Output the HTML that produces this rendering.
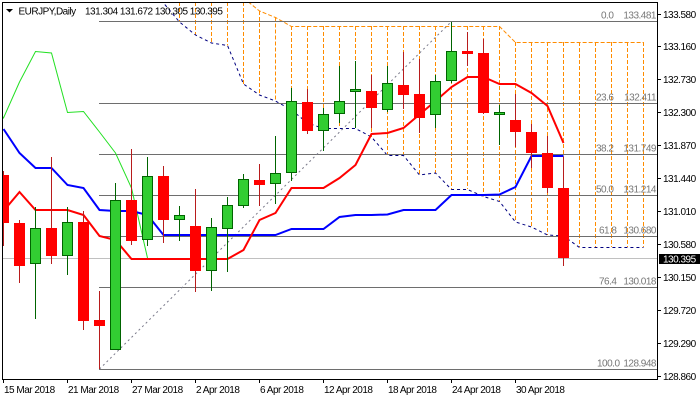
<!DOCTYPE html>
<html><head><meta charset="utf-8"><style>
html,body{margin:0;padding:0;background:#fff;}
svg{display:block;}
text{font-family:"Liberation Sans",sans-serif;font-size:10px;letter-spacing:-0.5px;}
</style></head><body>
<svg width="700" height="400" viewBox="0 0 700 400" xmlns="http://www.w3.org/2000/svg">
<defs><clipPath id="c"><rect x="3" y="3" width="654" height="376"/></clipPath></defs>
<rect width="700" height="400" fill="#fff"/>
<g clip-path="url(#c)">
<!-- hatches -->
<g stroke="#ff8c00" stroke-width="1" stroke-dasharray="4,2" shape-rendering="crispEdges">
<line x1="179.5" y1="2" x2="179.5" y2="22"/>
<line x1="195.5" y1="2" x2="195.5" y2="35"/>
<line x1="211.5" y1="2" x2="211.5" y2="43"/>
<line x1="227.5" y1="2" x2="227.5" y2="45.5"/>
<line x1="243.5" y1="2" x2="243.5" y2="84"/>
<line x1="259.5" y1="11" x2="259.5" y2="95"/>
<line x1="275.5" y1="17.5" x2="275.5" y2="101"/>
<line x1="291.5" y1="26" x2="291.5" y2="110"/>
<line x1="307.5" y1="26" x2="307.5" y2="123"/>
<line x1="323.5" y1="26" x2="323.5" y2="128"/>
<line x1="339.5" y1="26" x2="339.5" y2="128"/>
<line x1="355.5" y1="26" x2="355.5" y2="128"/>
<line x1="371.5" y1="26" x2="371.5" y2="137"/>
<line x1="387.5" y1="26" x2="387.5" y2="155"/>
<line x1="403.5" y1="26" x2="403.5" y2="155"/>
<line x1="419.5" y1="26" x2="419.5" y2="175"/>
<line x1="435.5" y1="26" x2="435.5" y2="173"/>
<line x1="451.5" y1="26" x2="451.5" y2="189"/>
<line x1="467.5" y1="26" x2="467.5" y2="189"/>
<line x1="483.5" y1="26" x2="483.5" y2="196.5"/>
<line x1="499.5" y1="26" x2="499.5" y2="201.5"/>
<line x1="515.5" y1="42" x2="515.5" y2="222"/>
<line x1="531.5" y1="42" x2="531.5" y2="227"/>
<line x1="547.5" y1="42" x2="547.5" y2="235"/>
<line x1="563.5" y1="42" x2="563.5" y2="236"/>
<line x1="579.5" y1="42" x2="579.5" y2="247"/>
<line x1="595.5" y1="42" x2="595.5" y2="247"/>
<line x1="611.5" y1="42" x2="611.5" y2="247"/>
<line x1="627.5" y1="42" x2="627.5" y2="247"/>
<line x1="643.5" y1="42" x2="643.5" y2="247"/>
</g>
<!-- span B -->
<polyline fill="none" stroke="#ff8c00" stroke-width="1" stroke-dasharray="4,2" points="243.5,-2 259.5,11 275.5,17.5 291.5,26.5 499.5,26.5 515.5,42.5 643.5,42.5"/>
<!-- span A -->
<polyline fill="none" stroke="#000080" stroke-width="1" stroke-dasharray="3,3" points="147.5,-12 163.5,3 179.5,22 195.5,35 211.5,43 227.5,45.5 243.5,84 259.5,95 275.5,101 291.5,110 307.5,123 323.5,128.5 339.5,128.5 355.5,128.5 371.5,137 387.5,155.5 403.5,155.5 419.5,175 435.5,173 451.5,189.5 467.5,189.5 483.5,196.5 499.5,201.5 515.5,222 531.5,227 547.5,235 563.5,236 579.5,247.5 643.5,247.5"/>
<!-- fib lines -->
<g stroke="#6e6e6e" stroke-width="1" shape-rendering="crispEdges">
<line x1="99" y1="21.5" x2="657" y2="21.5"/>
<line x1="99" y1="103.5" x2="657" y2="103.5"/>
<line x1="99" y1="154.5" x2="657" y2="154.5"/>
<line x1="99" y1="195.5" x2="657" y2="195.5"/>
<line x1="99" y1="236.5" x2="657" y2="236.5"/>
<line x1="99" y1="287.5" x2="657" y2="287.5"/>
<line x1="99" y1="369.5" x2="657" y2="369.5"/>
</g>
<line x1="2" y1="258.5" x2="657" y2="258.5" stroke="#c0c0c0" stroke-width="1" shape-rendering="crispEdges"/>
<line x1="99.5" y1="369" x2="451.5" y2="21.5" stroke="#7a7a8a" stroke-width="1" stroke-dasharray="2,3"/>
<!-- chikou -->
<polyline fill="none" stroke="#22e022" stroke-width="1" points="-13,95 3.5,118 19.5,82 35.5,51.5 51.5,53 67.5,112.5 83.5,111.5 99.5,132 115.5,153 131.5,188 147.5,258"/>
<!-- kijun -->
<polyline fill="none" stroke="#0000ff" stroke-width="2" points="3.5,129 19.5,153 35.5,168 51.5,168 67.5,185 83.5,188 99.5,210 115.5,211 131.5,211 147.5,215 163.5,235 275.5,235 291.5,229 323.5,229 339.5,217 355.5,215 371.5,215 387.5,214.5 403.5,210 435.5,210 451.5,195 483.5,195 499.5,194.5 515.5,187 531.5,156 563.5,156"/>
<!-- tenkan -->
<polyline fill="none" stroke="#ff0000" stroke-width="2" points="3.5,211 19.5,192 35.5,210 67.5,210 83.5,215 99.5,236 115.5,240 131.5,259 227.5,259 243.5,250 259.5,220 275.5,213 291.5,188 323.5,188 339.5,178 355.5,165 371.5,134 387.5,133 403.5,128 419.5,114.5 435.5,101 451.5,87 467.5,77 483.5,77 499.5,84 515.5,84 531.5,93 547.5,106 563.5,143"/>
<!-- candles wicks -->
<g stroke-width="1" shape-rendering="crispEdges">
<line x1="3.5" y1="171" x2="3.5" y2="246" stroke="#b81c1c"/>
<line x1="19.5" y1="220" x2="19.5" y2="283" stroke="#b81c1c"/>
<line x1="35.5" y1="207" x2="35.5" y2="319" stroke="#006400"/>
<line x1="51.5" y1="157" x2="51.5" y2="264" stroke="#b81c1c"/>
<line x1="67.5" y1="207" x2="67.5" y2="275" stroke="#006400"/>
<line x1="83.5" y1="211" x2="83.5" y2="330" stroke="#b81c1c"/>
<line x1="99.5" y1="291" x2="99.5" y2="369" stroke="#b81c1c"/>
<line x1="115.5" y1="183" x2="115.5" y2="350" stroke="#006400"/>
<line x1="131.5" y1="149" x2="131.5" y2="245" stroke="#b81c1c"/>
<line x1="147.5" y1="157" x2="147.5" y2="246" stroke="#006400"/>
<line x1="163.5" y1="166" x2="163.5" y2="243" stroke="#b81c1c"/>
<line x1="179.5" y1="206" x2="179.5" y2="241" stroke="#006400"/>
<line x1="195.5" y1="189" x2="195.5" y2="292" stroke="#b81c1c"/>
<line x1="211.5" y1="218" x2="211.5" y2="291" stroke="#006400"/>
<line x1="227.5" y1="197" x2="227.5" y2="272" stroke="#006400"/>
<line x1="243.5" y1="174" x2="243.5" y2="208" stroke="#006400"/>
<line x1="259.5" y1="164" x2="259.5" y2="206" stroke="#b81c1c"/>
<line x1="275.5" y1="136" x2="275.5" y2="204" stroke="#006400"/>
<line x1="291.5" y1="88" x2="291.5" y2="181" stroke="#006400"/>
<line x1="307.5" y1="89" x2="307.5" y2="134" stroke="#b81c1c"/>
<line x1="323.5" y1="108" x2="323.5" y2="151" stroke="#006400"/>
<line x1="339.5" y1="66" x2="339.5" y2="123" stroke="#006400"/>
<line x1="355.5" y1="61" x2="355.5" y2="128" stroke="#006400"/>
<line x1="371.5" y1="75" x2="371.5" y2="128" stroke="#b81c1c"/>
<line x1="387.5" y1="66" x2="387.5" y2="112" stroke="#006400"/>
<line x1="403.5" y1="52" x2="403.5" y2="109" stroke="#b81c1c"/>
<line x1="419.5" y1="59" x2="419.5" y2="133" stroke="#b81c1c"/>
<line x1="435.5" y1="75" x2="435.5" y2="128" stroke="#006400"/>
<line x1="451.5" y1="22" x2="451.5" y2="83" stroke="#006400"/>
<line x1="467.5" y1="32" x2="467.5" y2="66" stroke="#b81c1c"/>
<line x1="483.5" y1="39" x2="483.5" y2="114" stroke="#b81c1c"/>
<line x1="499.5" y1="105" x2="499.5" y2="145" stroke="#006400"/>
<line x1="515.5" y1="94" x2="515.5" y2="147" stroke="#b81c1c"/>
<line x1="531.5" y1="124" x2="531.5" y2="168" stroke="#b81c1c"/>
<line x1="547.5" y1="136" x2="547.5" y2="193" stroke="#b81c1c"/>
<line x1="563.5" y1="157" x2="563.5" y2="266" stroke="#b81c1c"/>
</g>
<!-- bear bodies -->
<g fill="#ff0000">
<rect x="-2" y="175" width="11" height="48"/>
<rect x="14" y="223" width="11" height="43"/>
<rect x="46" y="228" width="11" height="28"/>
<rect x="78" y="222" width="11" height="99"/>
<rect x="94" y="320" width="11" height="6"/>
<rect x="126" y="200" width="11" height="41"/>
<rect x="158" y="176" width="11" height="44"/>
<rect x="190" y="226" width="11" height="45"/>
<rect x="254" y="180" width="11" height="5"/>
<rect x="302" y="102" width="11" height="29"/>
<rect x="366" y="91" width="11" height="17"/>
<rect x="398" y="85" width="11" height="10"/>
<rect x="414" y="94" width="11" height="24"/>
<rect x="462" y="51" width="11" height="3"/>
<rect x="478" y="53" width="11" height="60"/>
<rect x="510" y="120" width="11" height="12"/>
<rect x="526" y="132" width="11" height="21"/>
<rect x="542" y="153" width="11" height="35"/>
<rect x="558" y="188" width="11" height="70"/>
</g>
<!-- bull bodies -->
<g fill="#32cd32" stroke="#006400" stroke-width="1">
<rect x="30.5" y="228.5" width="10" height="35"/>
<rect x="62.5" y="222.5" width="10" height="33"/>
<rect x="110.5" y="200.5" width="10" height="149"/>
<rect x="142.5" y="176.5" width="10" height="63"/>
<rect x="174.5" y="215.5" width="10" height="4"/>
<rect x="206.5" y="227.5" width="10" height="43"/>
<rect x="222.5" y="205.5" width="10" height="23"/>
<rect x="238.5" y="179.5" width="10" height="26"/>
<rect x="270.5" y="173.5" width="10" height="10"/>
<rect x="286.5" y="101.5" width="10" height="71"/>
<rect x="318.5" y="114.5" width="10" height="16"/>
<rect x="334.5" y="101.5" width="10" height="12"/>
<rect x="350.5" y="89.5" width="10" height="2"/>
<rect x="382.5" y="83.5" width="10" height="26"/>
<rect x="430.5" y="81.5" width="10" height="33"/>
<rect x="446.5" y="51.5" width="10" height="29"/>
<rect x="494.5" y="112.5" width="10" height="2"/>
</g>
</g>
<!-- fib labels -->
<g fill="#777777">
<text x="601" y="18.5">0.0</text><text x="656" y="18.5" text-anchor="end">133.481</text>
<text x="596" y="100.5">23.6</text><text x="656" y="100.5" text-anchor="end">132.411</text>
<text x="596" y="151.5">38.2</text><text x="656" y="151.5" text-anchor="end">131.749</text>
<text x="596" y="192.5">50.0</text><text x="656" y="192.5" text-anchor="end">131.214</text>
<text x="599" y="233.5">61.8</text><text x="656" y="233.5" text-anchor="end">130.680</text>
<text x="599" y="284.5">76.4</text><text x="656" y="284.5" text-anchor="end">130.018</text>
<text x="597" y="366.5">100.0</text><text x="656" y="366.5" text-anchor="end">128.948</text>
</g>
<!-- frame -->
<rect x="2.5" y="2.5" width="655" height="377" fill="none" stroke="#000" stroke-width="1" shape-rendering="crispEdges"/>
<!-- header -->
<polygon points="6,9 13,9 9.5,12.5" fill="#000"/>
<text x="18.5" y="14.5" fill="#000">EURJPY,Daily</text>
<text x="85" y="14.5" fill="#000">131.304 131.672 130.305 130.395</text>
<!-- right axis -->
<g stroke="#000" stroke-width="1" shape-rendering="crispEdges">
<line x1="657" y1="14.5" x2="661" y2="14.5"/>
<line x1="657" y1="46.5" x2="661" y2="46.5"/>
<line x1="657" y1="79.5" x2="661" y2="79.5"/>
<line x1="657" y1="112.5" x2="661" y2="112.5"/>
<line x1="657" y1="145.5" x2="661" y2="145.5"/>
<line x1="657" y1="178.5" x2="661" y2="178.5"/>
<line x1="657" y1="211.5" x2="661" y2="211.5"/>
<line x1="657" y1="244.5" x2="661" y2="244.5"/>
<line x1="657" y1="277.5" x2="661" y2="277.5"/>
<line x1="657" y1="310.5" x2="661" y2="310.5"/>
<line x1="657" y1="343.5" x2="661" y2="343.5"/>
<line x1="657" y1="376.5" x2="661" y2="376.5"/>
</g>
<g fill="#000">
<text x="663" y="18">133.580</text>
<text x="663" y="50">133.160</text>
<text x="663" y="83">132.730</text>
<text x="663" y="116">132.300</text>
<text x="663" y="149">131.870</text>
<text x="663" y="182">131.440</text>
<text x="663" y="215">131.010</text>
<text x="663" y="248">130.580</text>
<text x="663" y="281">130.150</text>
<text x="663" y="314">129.720</text>
<text x="663" y="347">129.290</text>
<text x="663" y="380">128.860</text>
</g>
<rect x="659" y="254" width="41" height="10" fill="#000"/>
<text x="663" y="262.5" fill="#fff">130.395</text>
<!-- bottom axis -->
<g stroke="#000" stroke-width="1" shape-rendering="crispEdges">
<line x1="3.5" y1="379" x2="3.5" y2="383"/>
<line x1="67.5" y1="379" x2="67.5" y2="383"/>
<line x1="131.5" y1="379" x2="131.5" y2="383"/>
<line x1="195.5" y1="379" x2="195.5" y2="383"/>
<line x1="259.5" y1="379" x2="259.5" y2="383"/>
<line x1="323.5" y1="379" x2="323.5" y2="383"/>
<line x1="387.5" y1="379" x2="387.5" y2="383"/>
<line x1="451.5" y1="379" x2="451.5" y2="383"/>
<line x1="515.5" y1="379" x2="515.5" y2="383"/>
</g>
<g fill="#000">
<text x="4" y="393">15 Mar 2018</text>
<text x="68" y="393">21 Mar 2018</text>
<text x="132" y="393">27 Mar 2018</text>
<text x="196" y="393">2 Apr 2018</text>
<text x="260" y="393">6 Apr 2018</text>
<text x="324" y="393">12 Apr 2018</text>
<text x="388" y="393">18 Apr 2018</text>
<text x="452" y="393">24 Apr 2018</text>
<text x="516" y="393">30 Apr 2018</text>
</g>
</svg>
</body></html>
